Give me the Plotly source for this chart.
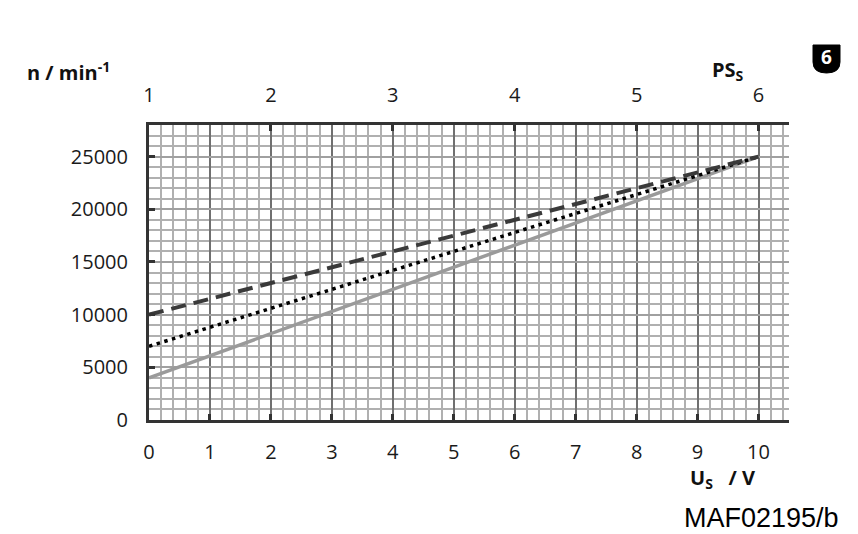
import plotly.graph_objects as go

# Data
us_volts = [0, 10]
n_solid = [4000, 25000]
n_dotted = [7000, 25000]
n_dashed = [10000, 25000]

x_ticks = [0, 1, 2, 3, 4, 5, 6, 7, 8, 9, 10]
y_ticks = [0, 5000, 10000, 15000, 20000, 25000]
ps_ticks = [1, 2, 3, 4, 5, 6]

FONT = "Open Sans"
OFF = 8  # page body margin

fig = go.Figure()
fig.add_trace(go.Scatter(x=us_volts, y=n_solid, mode="lines",
                         line=dict(color="#9a9a9a", width=3.5), showlegend=False))
fig.add_trace(go.Scatter(x=us_volts, y=n_dotted, mode="lines",
                         line=dict(color="#000000", width=3.5, dash="3.5px,4.5px"), showlegend=False))
fig.add_trace(go.Scatter(x=us_volts, y=n_dashed, mode="lines",
                         line=dict(color="#3a3a3a", width=4, dash="15px,8px"), showlegend=False))
fig.add_trace(go.Scatter(x=ps_ticks, y=[None]*len(ps_ticks), xaxis="x2", mode="lines",
                         showlegend=False, hoverinfo="skip"))

fig.update_layout(
    width=858 - OFF, height=534 - OFF,
    margin=dict(l=149 - OFF, r=69, t=125 - OFF, b=114, pad=0),
    paper_bgcolor="white", plot_bgcolor="white",
    font=dict(family=FONT, size=20, color="#1a1a1a"),
    xaxis=dict(range=[0, 10.5], tickvals=x_ticks, ticktext=[str(v) for v in x_ticks],
               showgrid=True, gridcolor="#707070", gridwidth=1.5,
               minor=dict(dtick=0.2, tick0=0, showgrid=True, gridcolor="#b0b0b0", gridwidth=1.5),
               showline=True, linecolor="#333", linewidth=3,
               ticks="inside", ticklen=6, tickwidth=3, tickcolor="#333",
               ticklabelstandoff=12, zeroline=False),
    xaxis2=dict(range=[1, 6.25], overlaying="x", side="top", tickvals=ps_ticks,
                showgrid=False, showline=True, linecolor="#333", linewidth=2.5,
                ticks="inside", ticklen=6, tickwidth=3, tickcolor="#333",
                ticklabelstandoff=12, zeroline=False),
    yaxis=dict(range=[0, 28000], tickvals=y_ticks, ticktext=[str(v) for v in y_ticks],
               showgrid=True, gridcolor="#a0a0a0", gridwidth=1.5,
               minor=dict(dtick=1000, tick0=0, showgrid=True, gridcolor="#b0b0b0", gridwidth=1.5),
               showline=True, linecolor="#333", linewidth=3,
               ticks="inside", ticklen=6, tickwidth=3, tickcolor="#333",
               ticklabelstandoff=14, zeroline=False),
)

def px(xp):
    return (xp - 149) / 640

def py(yp):
    return (420 - yp) / 295

path = (f"M {px(813)},{py(45)} L {px(840)},{py(45)} L {px(840)},{py(62)} "
        f"Q {px(840)},{py(73)} {px(826.5)},{py(73)} Q {px(813)},{py(73)} {px(813)},{py(62)} Z")
fig.add_shape(type="path", xref="paper", yref="paper", path=path,
              fillcolor="black", line=dict(color="black", width=1))

annotations = [
    dict(text="<b>6</b>", x=px(826.5), y=py(57), xanchor="center", yanchor="middle",
         font=dict(family=FONT, size=19, color="white")),
    dict(text="<b>n / min<sup>-1</sup></b>", x=px(25), y=py(72), xanchor="left", yanchor="middle",
         font=dict(family=FONT, size=20, color="#111")),
    dict(text="<b>PS<sub>S</sub></b>", x=px(710), y=py(70), xanchor="left", yanchor="middle",
         font=dict(family=FONT, size=20, color="#111")),
    dict(text="<b>U<sub>S</sub>&nbsp;&nbsp;&nbsp;/&nbsp;V</b>", x=px(688), y=py(478),
         xanchor="left", yanchor="middle",
         font=dict(family=FONT, size=20, color="#111")),
    dict(text="MAF02195/b", x=px(841), y=py(518), xanchor="right", yanchor="middle",
         font=dict(family="Liberation Sans", size=27, color="#000")),
]
for a in annotations:
    fig.add_annotation(xref="paper", yref="paper", showarrow=False, **a)

fig.write_html("out.html")
